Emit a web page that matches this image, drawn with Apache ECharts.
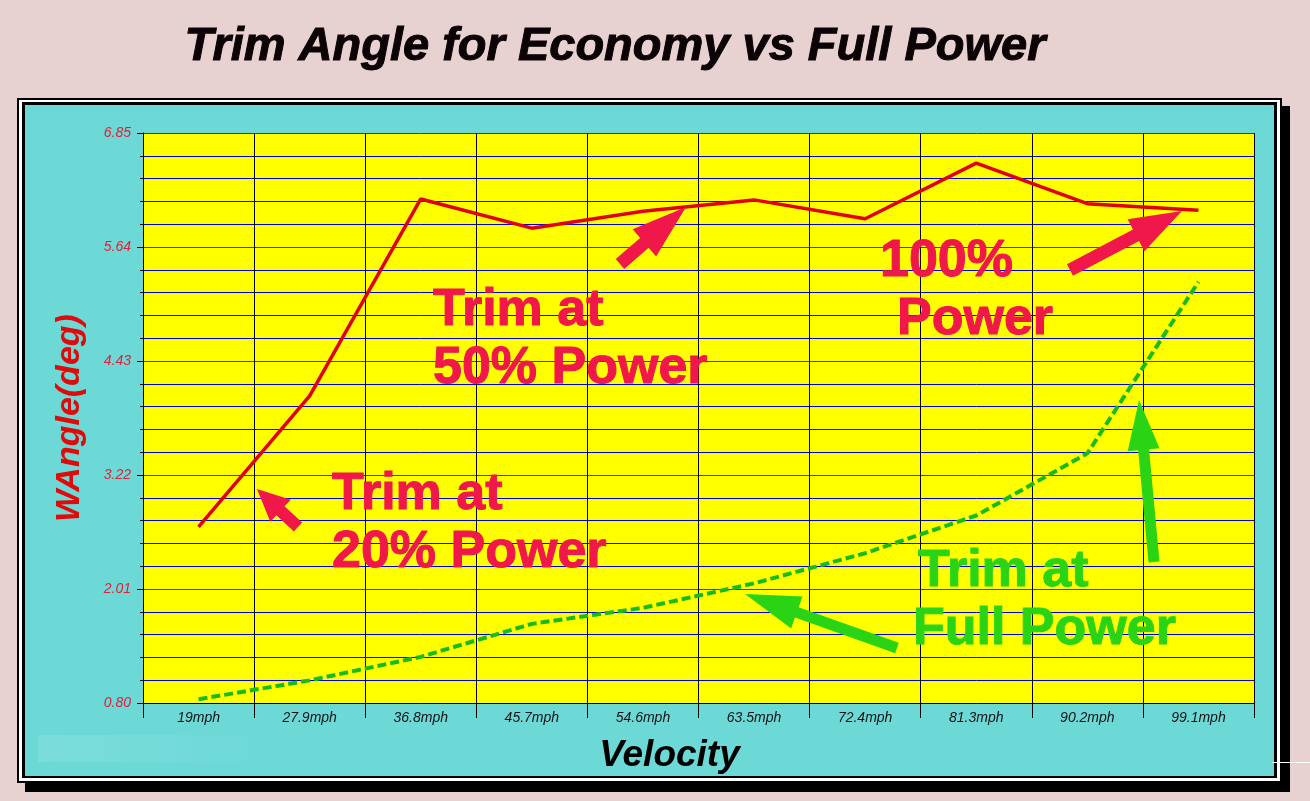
<!DOCTYPE html>
<html>
<head>
<meta charset="utf-8">
<script src="https://cdn.jsdelivr.net/npm/echarts@6/dist/echarts.min.js"></script>
<style>
html,body{margin:0;padding:0;background:#e7d1d1;}
#chart{width:1310px;height:801px;}
</style>
</head>
<body>
<div id="chart"></div>
<script>
const categories = ['19mph','27.9mph','36.8mph','45.7mph','54.6mph','63.5mph','72.4mph','81.3mph','90.2mph','99.1mph'];
const economyTrim = [2.67, 4.06, 6.15, 5.84, 6.02, 6.14, 5.94, 6.53, 6.10, 6.03];
const fullPowerTrim = [0.84, 1.04, 1.29, 1.64, 1.81, 2.07, 2.39, 2.79, 3.45, 5.27];
const yTicks = [0.80, 2.01, 3.22, 4.43, 5.64, 6.85];

const chart = echarts.init(document.getElementById('chart'), null, {renderer:'canvas'});

function arrow(tail, tip, sw, hw, hl, color) {
  const dx = tip[0]-tail[0], dy = tip[1]-tail[1];
  const len = Math.sqrt(dx*dx+dy*dy);
  const ux = dx/len, uy = dy/len, nx = -uy, ny = ux;
  const bx = tip[0]-ux*hl, by = tip[1]-uy*hl;
  const pts = [
    [tail[0]+nx*sw/2, tail[1]+ny*sw/2],
    [bx+nx*sw/2, by+ny*sw/2],
    [bx+nx*hw/2, by+ny*hw/2],
    [tip[0], tip[1]],
    [bx-nx*hw/2, by-ny*hw/2],
    [bx-nx*sw/2, by-ny*sw/2],
    [tail[0]-nx*sw/2, tail[1]-ny*sw/2]
  ];
  return {type:'polygon', z:100, shape:{points:pts}, style:{fill:color}, silent:true};
}
const RED_TXT = '#f0174a';
const GREEN = '#2ad414';
const annFont = 'bold 52px "Liberation Sans", Arial, sans-serif';
function txt(x, y, s, color, font, align) {
  return {type:'text', z:100, x:x, y:y, style:{text:s, fill:color, font:font, textAlign:align||'left', textVerticalAlign:'middle', stroke:color, lineWidth:1}, silent:true};
}

const option = {
  backgroundColor: '#e7d1d1',
  animation: false,
  grid: {left:143, top:133, width:1111, height:570, show:true, backgroundColor:'#ffff00', borderWidth:0},
  xAxis: {
    type:'category', data:categories, boundaryGap:true, z:3,
    axisLine:{show:true, lineStyle:{color:'#000', width:1}},
    axisTick:{show:true, length:15, lineStyle:{color:'#000', width:1}, alignWithLabel:false},
    axisLabel:{color:'#111', fontStyle:'italic', fontSize:14, fontFamily:'"Liberation Sans", Arial, sans-serif', margin:8},
    splitLine:{show:true, lineStyle:{color:'#000', width:1}},
    name:'Velocity', nameLocation:'middle', nameGap:34,
    nameTextStyle:{color:'#000', fontSize:37, fontWeight:'bold', fontStyle:'italic', fontFamily:'"Liberation Sans", Arial, sans-serif', padding:[0,0,0,-58]}
  },
  yAxis: {
    type:'value', min:0.80, max:6.85, interval:1.21, z:2,
    axisLine:{show:true, lineStyle:{color:'#000', width:1}},
    axisTick:{show:true, length:6, lineStyle:{color:'#000', width:1}},
    minorTick:{show:true, splitNumber:5, length:3, lineStyle:{color:'#000', width:1}},
    axisLabel:{color:'#e0203a', fontStyle:'italic', fontSize:14, fontFamily:'"Liberation Sans", Arial, sans-serif', margin:12,
      formatter:function(v){ let best=yTicks[0]; yTicks.forEach(t=>{ if(Math.abs(t-v)<Math.abs(best-v)) best=t; }); return best.toFixed(2); }},
    splitLine:{show:true, lineStyle:{color:'#e00000', width:1}},
    minorSplitLine:{show:true, lineStyle:{color:'#0000ee', width:1}},
    name:'WAngle(deg)', nameLocation:'middle', nameGap:56, nameRotate:90,
    nameTextStyle:{color:'#e00a0a', fontSize:34, fontWeight:'bold', fontStyle:'italic', fontFamily:'"Liberation Sans", Arial, sans-serif'}
  },
  series: [
    {type:'line', name:'Economy', data:economyTrim, symbol:'none', z:5,
      lineStyle:{color:'#e0000e', width:3.5}},
    {type:'line', name:'Full Power', data:fullPowerTrim, symbol:'none', z:5,
      lineStyle:{color:'#18bb18', width:4, type:[9,4]}}
  ],
  graphic: [
    {type:'rect', z:-100, shape:{x:25, y:106, width:1265, height:686}, style:{fill:'#000'}, silent:true},
    {type:'rect', z:-99, shape:{x:17, y:98, width:1265, height:685}, style:{fill:'#000'}, silent:true},
    {type:'rect', z:-98, shape:{x:19, y:100, width:1261, height:681}, style:{fill:'#fff'}, silent:true},
    {type:'rect', z:-97, shape:{x:22, y:102, width:1255, height:676}, style:{fill:'#000'}, silent:true},
    {type:'rect', z:-96, shape:{x:25, y:105, width:1249, height:671}, style:{fill:'#6cd9d7'}, silent:true},
    {type:'rect', z:-95, shape:{x:38, y:735, width:240, height:27}, style:{fill:new echarts.graphic.LinearGradient(0,0,1,1,[{offset:0,color:'rgba(255,255,255,0.10)'},{offset:1,color:'rgba(255,255,255,0)'}])}, silent:true},
    {type:'line', z:100, shape:{x1:1272, y1:762.5, x2:1310, y2:762.5}, style:{stroke:'#fff', lineWidth:1}, silent:true},
    txt(615, 47, 'Trim Angle for Economy vs Full Power', '#0b0305', 'italic bold 47px "Liberation Sans", Arial, sans-serif', 'center'),
    txt(433, 311, 'Trim at', RED_TXT, annFont),
    txt(433, 369, '50% Power', RED_TXT, annFont),
    txt(332, 495, 'Trim at', RED_TXT, annFont),
    txt(332, 553, '20% Power', RED_TXT, annFont),
    txt(880, 262, '100%', RED_TXT, annFont),
    txt(897, 320, 'Power', RED_TXT, annFont),
    txt(918, 572, 'Trim at', GREEN, annFont),
    txt(913, 630, 'Full Power', GREEN, annFont),
    arrow([620,264],[686,207],13,36,55,RED_TXT),
    arrow([298,527],[257,489],12,30,32,RED_TXT),
    arrow([1070,270],[1182,211],13,36,52,RED_TXT),
    arrow([1154,562],[1139,400],11,32,50,GREEN),
    arrow([897,648],[745,594],11,34,55,GREEN)
  ]
};
chart.setOption(option);
</script>
</body>
</html>
